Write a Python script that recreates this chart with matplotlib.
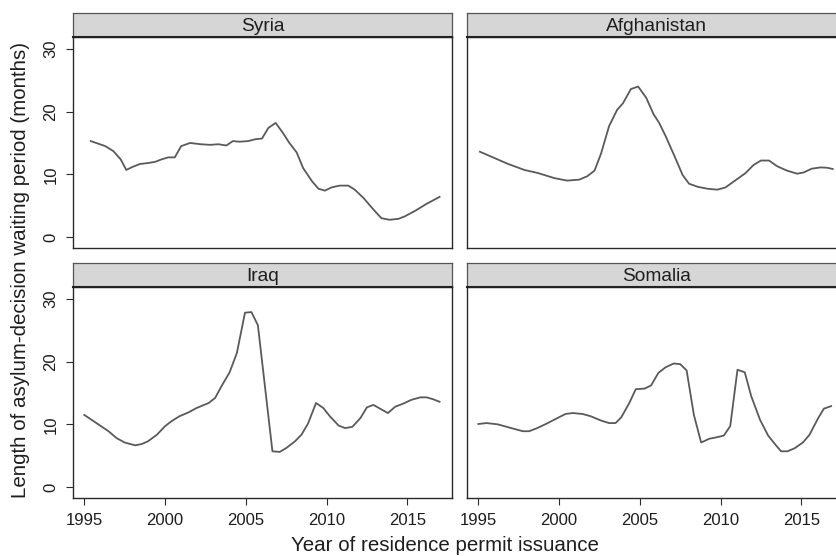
import matplotlib
matplotlib.use("Agg")
import matplotlib.pyplot as plt

plt.rcParams['font.family'] = ['Liberation Sans', 'DejaVu Sans']

# ---- data ----
syria_year = [1995.4, 1996.3, 1996.8, 1997.25, 1997.6, 1998.0, 1998.45, 1998.95, 1999.4, 1999.8,
              2000.2, 2000.6, 2001.0, 2001.55, 2002.2, 2002.8, 2003.3, 2003.8, 2004.2, 2004.6,
              2005.15, 2005.6, 2006.0, 2006.4, 2006.85, 2007.3, 2007.7, 2008.15, 2008.55, 2009.1,
              2009.5, 2009.9, 2010.3, 2010.8, 2011.35, 2011.75, 2012.3, 2012.9, 2013.4, 2013.9,
              2014.45, 2014.85, 2015.5, 2016.2, 2017.0]
syria_val = [15.3, 14.5, 13.7, 12.4, 10.7, 11.2, 11.65, 11.8, 12.0, 12.4,
             12.7, 12.7, 14.5, 15.0, 14.8, 14.7, 14.8, 14.6, 15.3, 15.2,
             15.3, 15.6, 15.7, 17.4, 18.2, 16.6, 15.0, 13.5, 11.0, 8.9,
             7.7, 7.4, 7.9, 8.2, 8.2, 7.55, 6.2, 4.4, 3.0, 2.75,
             2.9, 3.3, 4.2, 5.3, 6.4]

afg_year = [1995.1, 1996.0, 1996.8, 1997.85, 1998.7, 1999.7, 2000.5, 2001.25, 2001.75, 2002.2,
            2002.6, 2003.1, 2003.6, 2003.95, 2004.45, 2004.9, 2005.4, 2005.85, 2006.2, 2006.6,
            2007.15, 2007.65, 2008.05, 2008.6, 2009.2, 2009.8, 2010.3, 2010.9, 2011.55, 2012.05,
            2012.5, 2013.0, 2013.5, 2014.1, 2014.75, 2015.15, 2015.65, 2016.2, 2016.6, 2016.95]
afg_val = [13.6, 12.6, 11.7, 10.7, 10.2, 9.4, 9.0, 9.15, 9.7, 10.6,
           13.3, 17.7, 20.3, 21.3, 23.6, 24.0, 22.2, 19.6, 18.2, 16.1,
           12.9, 9.9, 8.5, 8.0, 7.7, 7.55, 7.9, 9.0, 10.2, 11.5,
           12.2, 12.2, 11.3, 10.6, 10.1, 10.3, 10.9, 11.1, 11.05, 10.85]

iraq_year = [1995.0, 1995.75, 1996.5, 1997.0, 1997.5, 1998.15, 1998.55, 1998.95, 1999.5, 2000.0,
             2000.4, 2000.9, 2001.45, 2001.95, 2002.7, 2003.1, 2003.5, 2004.0, 2004.45, 2004.95,
             2005.35, 2005.75, 2006.65, 2007.1, 2007.5, 2008.05, 2008.45, 2008.85, 2009.35, 2009.8,
             2010.2, 2010.75, 2011.15, 2011.6, 2012.1, 2012.5, 2012.9, 2013.45, 2013.8, 2014.25,
             2014.75, 2015.25, 2015.8, 2016.2, 2016.6, 2017.0]
iraq_val = [11.5, 10.2, 8.9, 7.8, 7.1, 6.65, 6.85, 7.3, 8.35, 9.7,
            10.5, 11.3, 11.9, 12.6, 13.4, 14.2, 16.1, 18.3, 21.4, 27.8,
            27.9, 25.8, 5.7, 5.6, 6.2, 7.3, 8.35, 10.1, 13.4, 12.6,
            11.3, 9.8, 9.4, 9.6, 11.0, 12.7, 13.1, 12.3, 11.8, 12.8,
            13.3, 13.9, 14.3, 14.3, 14.0, 13.6]

som_year = [1995.0, 1995.5, 1996.2, 1996.9, 1997.75, 1998.15, 1998.65, 1999.3, 1999.9, 2000.4,
            2000.85, 2001.45, 2001.95, 2002.6, 2003.1, 2003.5, 2003.85, 2004.35, 2004.75, 2005.3,
            2005.7, 2006.15, 2006.6, 2007.1, 2007.5, 2007.9, 2008.35, 2008.8, 2009.3, 2009.7,
            2010.2, 2010.6, 2011.05, 2011.5, 2011.9, 2012.45, 2012.95, 2013.4, 2013.75, 2014.15,
            2014.6, 2015.1, 2015.5, 2016.05, 2016.4, 2016.85]
som_val = [10.05, 10.2, 10.0, 9.5, 8.9, 8.9, 9.4, 10.2, 11.0, 11.65,
           11.8, 11.65, 11.3, 10.6, 10.2, 10.2, 11.1, 13.4, 15.6, 15.7,
           16.2, 18.2, 19.1, 19.7, 19.6, 18.6, 11.5, 7.1, 7.7, 7.9,
           8.2, 9.7, 18.7, 18.3, 14.5, 10.7, 8.2, 6.75, 5.7, 5.7,
           6.2, 7.1, 8.3, 11.0, 12.5, 12.9]

countries = ["Syria", "Afghanistan", "Iraq", "Somalia"]
years = [syria_year, afg_year, iraq_year, som_year]
values = [syria_val, afg_val, iraq_val, som_val]
x_ticks = [1995, 2000, 2005, 2010, 2015]
y_ticks = [0, 10, 20, 30]

# ---- layout (pixels) ----
W, H = 837, 556
fig = plt.figure(figsize=(W / 100, H / 100), dpi=100)

def fx(px):
    return px / W

def fy(py):
    return 1 - py / H

lefts = [73, 467, 73, 467]
tops = [37, 37, 287, 287]
pw, ph, sh = 379, 211, 24

line_col = "#5a5a5a"
frame_col = "#2a2a2a"
text_col = "#1e1e1e"

for i in range(4):
    l, t = lefts[i], tops[i]
    ax = fig.add_axes([fx(l), fy(t + ph), pw / W, ph / H])
    ax.plot(years[i], values[i], color=line_col, lw=1.3)
    ax.set_xlim(1994.3, 2017.77)
    ax.set_ylim(-1.75, 31.9)
    ax.set_xticks(x_ticks)
    ax.set_yticks(y_ticks)
    for s in ax.spines.values():
        s.set_color(frame_col)
        s.set_linewidth(1.0)
    ax.tick_params(axis='both', length=5, width=0.8, color=frame_col,
                   labelsize=12, labelcolor=text_col, pad=5.5)
    if i in (0, 2):
        for lab in ax.get_yticklabels():
            lab.set_rotation(90)
            lab.set_va('center')
    else:
        ax.tick_params(axis='y', left=False, labelleft=False)
    if i in (0, 1):
        ax.tick_params(axis='x', bottom=False, labelbottom=False)

    # strip
    sax = fig.add_axes([fx(l), fy(t), pw / W, sh / H])
    sax.set_facecolor("#d6d6d6")
    sax.set_xticks([])
    sax.set_yticks([])
    for s in sax.spines.values():
        s.set_color("#555555")
        s.set_linewidth(0.9)
    sax.spines['bottom'].set_color("#222222")
    sax.spines['bottom'].set_linewidth(1.5)
    sax.text(0.5, 0.45, countries[i], ha='center', va='center',
             fontsize=13.8, color=text_col, transform=sax.transAxes)

fig.text(fx(445), fy(551), "Year of residence permit issuance",
         ha='center', va='baseline', fontsize=14.8, color=text_col)
fig.text(fx(21), fy(270), "Length of asylum-decision waiting period (months)",
         ha='center', va='center', rotation=90, fontsize=14.8, color=text_col)

fig.savefig("out.png", dpi=100)
